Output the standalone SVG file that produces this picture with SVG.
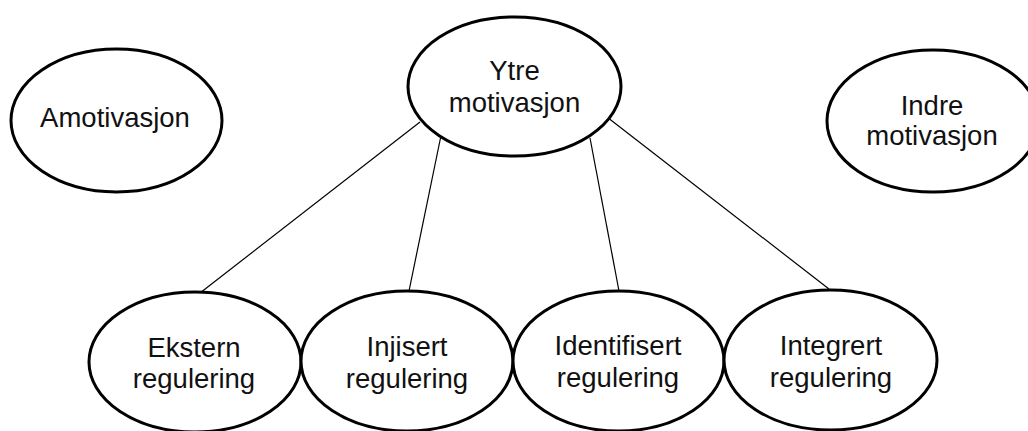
<svg xmlns="http://www.w3.org/2000/svg" width="1028" height="431" viewBox="0 0 1028 431">
<style>
.node ellipse{fill:#fff;stroke:#000;stroke-width:3}
.node text{font-family:"Liberation Sans",Arial,sans-serif;font-size:27.5px;fill:#111;text-anchor:middle}
.conn line{stroke:#000;stroke-width:1.2}
</style>
<rect width="1028" height="431" fill="#fff"/>
<g id="connectors" class="conn">
<line x1="420" y1="122" x2="200" y2="293"/>
<line x1="440.5" y1="138" x2="409" y2="291"/>
<line x1="590" y1="138" x2="619" y2="291"/>
<line x1="609.5" y1="119" x2="829" y2="289"/>
</g>
<g id="amotivasjon" class="node">
<ellipse cx="116.5" cy="120.5" rx="105.5" ry="71.5"/>
<text x="115" y="127">Amotivasjon</text>
</g>
<g id="ytre" class="node">
<ellipse cx="514.5" cy="86.5" rx="106.5" ry="69.5"/>
<text x="514.5" y="80">Ytre</text>
<text x="514.5" y="112">motivasjon</text>
</g>
<g id="indre" class="node">
<ellipse cx="933" cy="121" rx="106" ry="71"/>
<text x="932" y="115">Indre</text>
<text x="932" y="145">motivasjon</text>
</g>
<g id="ekstern" class="node">
<ellipse cx="195" cy="362" rx="106" ry="70"/>
<text x="194" y="357">Ekstern</text>
<text x="194" y="388">regulering</text>
</g>
<g id="injisert" class="node">
<ellipse cx="407" cy="361" rx="106" ry="70"/>
<text x="407" y="356">Injisert</text>
<text x="407" y="388">regulering</text>
</g>
<g id="identifisert" class="node">
<ellipse cx="618.5" cy="361" rx="105.5" ry="70"/>
<text x="618" y="355">Identifisert</text>
<text x="618" y="387">regulering</text>
</g>
<g id="integrert" class="node">
<ellipse cx="830.5" cy="360" rx="106.5" ry="70"/>
<text x="831" y="355">Integrert</text>
<text x="831" y="387">regulering</text>
</g>
</svg>
